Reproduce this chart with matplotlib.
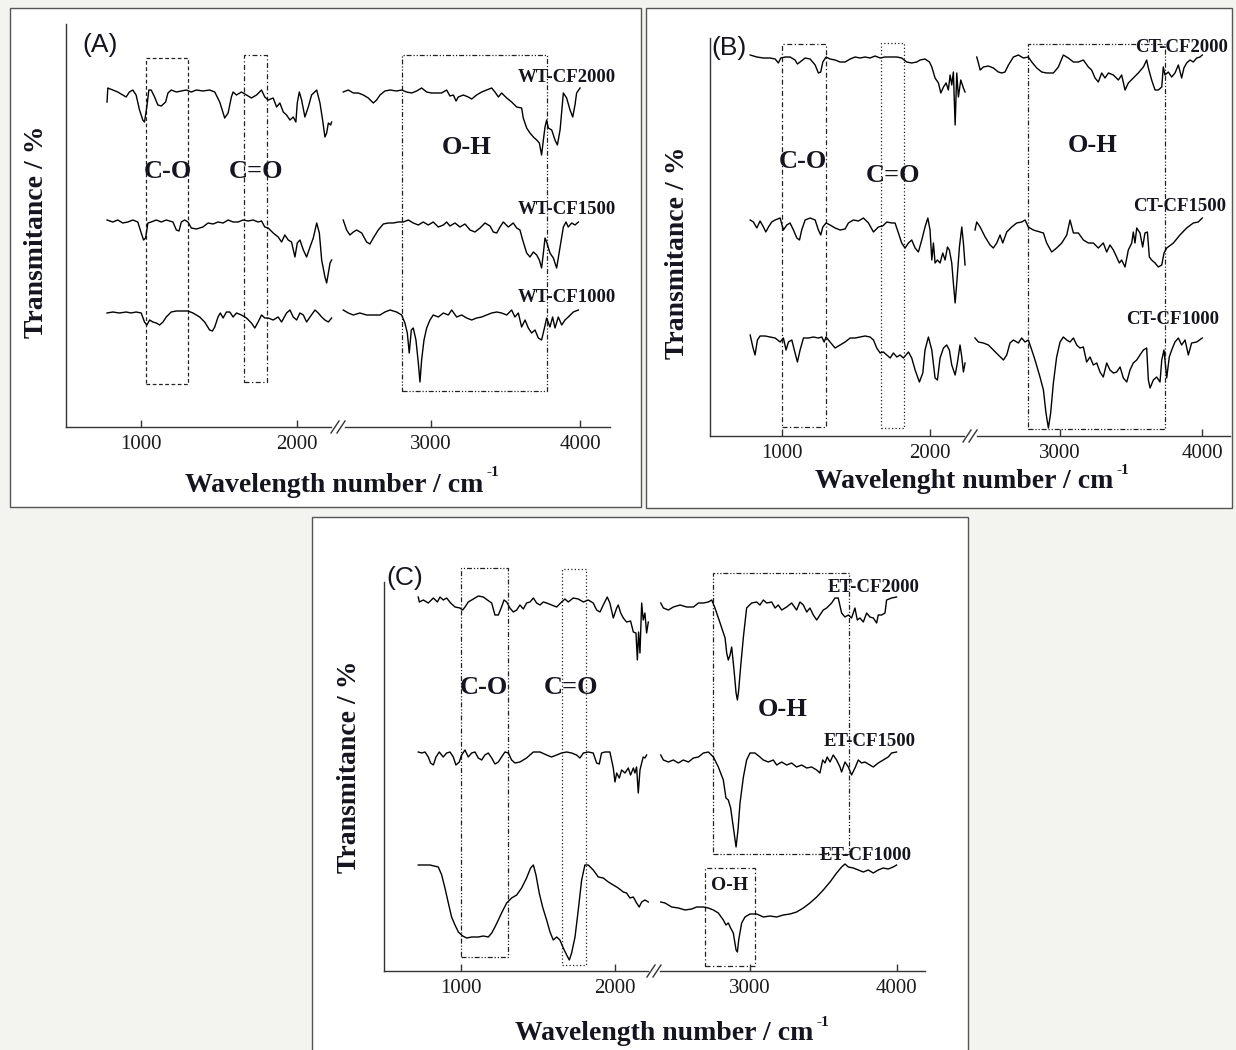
import matplotlib
matplotlib.use("Agg")
import matplotlib.pyplot as plt
from matplotlib.patches import Rectangle
from matplotlib.lines import Line2D

plt.rcParams['font.family'] = ['Liberation Serif', 'DejaVu Serif']

W, H = 1236, 1050

# ---------------- data: wavenumber (cm-1) / transmittance (a.u., stacked) ----------------
# (A) WT-CF
wt2000_lo_wn = [780, 785, 817, 849, 881, 903, 924, 946, 967, 989, 1010, 1021, 1036, 1049, 1064, 1086, 1107, 1129,
                1157, 1172, 1193, 1226, 1258, 1290, 1322, 1355, 1397, 1440, 1473, 1505, 1537, 1559, 1580, 1591,
                1613, 1645, 1677, 1709, 1742, 1774, 1795, 1817, 1849, 1871, 1892, 1914, 1935, 1957, 1978, 1995,
                2004, 2017, 2032, 2053, 2075, 2096, 2129, 2150, 2167, 2182, 2193, 2204, 2219, 2225]
wt2000_lo_t = [325, 339, 337, 335, 332, 330, 335, 337, 332, 317, 307, 305, 320, 337, 337, 330, 322, 321,
               325, 334, 337, 335, 336, 337, 335, 337, 336, 337, 335, 325, 309, 314, 330, 335,
               332, 335, 332, 329, 332, 337, 330, 327, 329, 320, 324, 315, 312, 307, 310, 305,
               324, 335, 327, 310, 320, 332, 337, 324, 307, 290, 294, 304, 302, 305]
wt2000_hi_wn = [2411, 2445, 2479, 2512, 2546, 2579, 2613, 2635, 2658, 2691, 2725, 2769, 2803, 2836, 2870, 2904,
                2937, 2971, 3004, 3038, 3071, 3105, 3127, 3150, 3168, 3183, 3217, 3250, 3273, 3306, 3340, 3373,
                3407, 3429, 3452, 3474, 3508, 3541, 3575, 3608, 3619, 3642, 3664, 3687, 3709, 3727, 3742, 3754,
                3765, 3776, 3787, 3810, 3832, 3848, 3866, 3888, 3910, 3933, 3951, 3966, 3977, 4000]
wt2000_hi_t = [335, 337, 334, 334, 332, 329, 324, 327, 332, 336, 337, 336, 337, 335, 334, 336,
               339, 335, 334, 334, 334, 337, 331, 332, 326, 330, 332, 330, 328, 332, 335, 337,
               339, 335, 330, 334, 329, 325, 320, 319, 309, 299, 294, 290, 287, 284, 272, 287,
               300, 307, 299, 297, 287, 282, 297, 334, 329, 317, 310, 322, 334, 339]

wt1500_lo_wn = [780, 817, 849, 881, 914, 946, 978, 1000, 1015, 1028, 1043, 1064, 1097, 1129, 1161, 1204, 1226,
                1243, 1258, 1279, 1301, 1322, 1355, 1397, 1430, 1462, 1494, 1527, 1559, 1591, 1623, 1656, 1688,
                1720, 1752, 1774, 1795, 1817, 1849, 1881, 1903, 1924, 1946, 1967, 1989, 2004, 2021, 2043, 2064,
                2086, 2107, 2129, 2146, 2161, 2182, 2193, 2204, 2215, 2225]
wt1500_lo_t = [207, 205, 207, 204, 205, 207, 205, 194, 187, 189, 204, 205, 207, 205, 207, 205, 197,
               196, 205, 207, 205, 199, 198, 200, 204, 203, 205, 204, 207, 205, 205, 207, 206,
               207, 205, 206, 200, 199, 194, 190, 185, 192, 187, 185, 170, 184, 187, 177, 170,
               180, 189, 204, 194, 167, 150, 144, 154, 164, 167]
wt1500_hi_wn = [2411, 2434, 2456, 2479, 2501, 2535, 2568, 2590, 2613, 2646, 2680, 2713, 2747, 2781, 2814, 2848,
                2881, 2915, 2948, 2982, 3015, 3049, 3083, 3105, 3127, 3161, 3194, 3228, 3262, 3295, 3329, 3362,
                3396, 3418, 3441, 3463, 3485, 3519, 3552, 3575, 3597, 3615, 3642, 3664, 3687, 3709, 3727, 3742,
                3754, 3765, 3776, 3798, 3821, 3843, 3866, 3888, 3906, 3921, 3944, 3966, 3989]
wt1500_hi_t = [207, 197, 192, 195, 197, 194, 185, 183, 189, 197, 203, 204, 204, 205, 205, 207,
               204, 202, 205, 202, 205, 200, 202, 205, 201, 204, 200, 203, 197, 195, 199, 204,
               201, 195, 194, 200, 205, 200, 204, 199, 197, 187, 174, 170, 175, 172, 167, 159,
               174, 189, 185, 174, 169, 159, 180, 200, 205, 200, 204, 202, 205]

wt1000_lo_wn = [780, 817, 860, 903, 935, 967, 1000, 1021, 1036, 1054, 1075, 1097, 1118, 1140, 1161, 1193, 1226,
                1258, 1301, 1333, 1376, 1408, 1440, 1458, 1473, 1494, 1509, 1527, 1548, 1570, 1591, 1613, 1645,
                1677, 1709, 1731, 1752, 1774, 1795, 1817, 1849, 1881, 1903, 1935, 1957, 1978, 2000, 2021, 2043,
                2064, 2086, 2118, 2139, 2161, 2182, 2204, 2225]
wt1000_lo_t = [114, 115, 114, 115, 114, 115, 114, 105, 102, 107, 105, 104, 102, 105, 110, 115, 116,
               116, 116, 114, 110, 105, 97, 96, 100, 110, 114, 109, 115, 115, 110, 114, 112,
               109, 104, 99, 105, 112, 109, 109, 107, 110, 105, 114, 117, 110, 107, 114, 112,
               105, 110, 117, 114, 110, 107, 105, 109]
wt1000_hi_wn = [2411, 2445, 2479, 2523, 2568, 2613, 2658, 2691, 2725, 2769, 2803, 2825, 2841, 2854, 2868, 2881,
                2899, 2915, 2926, 2937, 2953, 2971, 2993, 3015, 3049, 3083, 3116, 3139, 3172, 3206, 3239, 3273,
                3306, 3340, 3373, 3407, 3441, 3474, 3508, 3541, 3563, 3586, 3608, 3631, 3653, 3675, 3698, 3720,
                3742, 3758, 3776, 3798, 3816, 3832, 3854, 3877, 3899, 3921, 3955, 3989]
wt1000_hi_t = [117, 114, 112, 114, 112, 112, 112, 115, 117, 115, 112, 104, 94, 74, 97, 99,
               87, 64, 45, 67, 87, 99, 107, 112, 110, 114, 112, 117, 110, 112, 109, 107,
               109, 110, 112, 114, 115, 114, 112, 117, 110, 114, 100, 107, 99, 94, 97, 89,
               87, 97, 109, 100, 110, 99, 110, 102, 107, 110, 115, 117]

# (B) CT-CF
ct2000_lo_wn = [782, 827, 872, 917, 951, 973, 989, 1019, 1052, 1086, 1102, 1120, 1154, 1188, 1222, 1244, 1260,
                1274, 1296, 1323, 1357, 1391, 1425, 1459, 1493, 1526, 1560, 1594, 1628, 1662, 1696, 1730, 1775,
                1808, 1842, 1876, 1910, 1933, 1966, 1996, 2012, 2034, 2057, 2073, 2091, 2109, 2124, 2136, 2147,
                2158, 2170, 2181, 2192, 2208, 2226, 2237]
ct2000_lo_t = [381, 379, 378, 378, 377, 373, 378, 379, 379, 376, 372, 374, 378, 377, 371, 363, 364,
               374, 379, 377, 376, 374, 374, 377, 379, 378, 379, 378, 380, 378, 379, 379, 379,
               378, 374, 373, 374, 376, 377, 374, 369, 358, 353, 343, 349, 353, 346, 361, 351,
               364, 311, 363, 339, 356, 348, 344]
ct2000_hi_wn = [2414, 2426, 2438, 2461, 2496, 2531, 2566, 2590, 2613, 2637, 2672, 2707, 2742, 2777, 2801, 2836,
                2871, 2906, 2953, 2988, 3023, 3058, 3094, 3129, 3164, 3199, 3222, 3246, 3269, 3293, 3316, 3340,
                3375, 3410, 3433, 3457, 3480, 3515, 3550, 3586, 3609, 3621, 3644, 3668, 3691, 3715, 3726, 3738,
                3761, 3785, 3808, 3832, 3855, 3871, 3890, 3914, 3937, 3961, 3984, 4000]
ct2000_hi_t = [379, 373, 366, 369, 370, 368, 364, 363, 364, 371, 379, 381, 378, 379, 374, 368,
               364, 363, 363, 369, 381, 378, 374, 374, 376, 369, 366, 358, 354, 363, 358, 363,
               361, 356, 361, 346, 353, 358, 363, 369, 376, 368, 356, 346, 346, 349, 369, 361,
               364, 359, 363, 371, 358, 368, 373, 376, 374, 378, 379, 381]

ct1500_lo_wn = [782, 804, 827, 849, 872, 888, 906, 928, 951, 985, 1007, 1030, 1052, 1075, 1098, 1116, 1131,
                1154, 1188, 1222, 1244, 1260, 1274, 1296, 1323, 1357, 1391, 1425, 1447, 1481, 1515, 1549, 1583,
                1617, 1650, 1680, 1707, 1741, 1763, 1786, 1808, 1831, 1854, 1876, 1899, 1921, 1944, 1966, 1985,
                2000, 2012, 2023, 2034, 2050, 2068, 2086, 2102, 2118, 2131, 2147, 2158, 2170, 2181, 2199, 2215,
                2226, 2237]
ct1500_lo_t = [216, 214, 208, 215, 209, 204, 209, 214, 216, 218, 206, 211, 213, 206, 198, 196, 206,
               216, 218, 216, 206, 201, 209, 213, 211, 208, 206, 207, 213, 216, 215, 218, 213,
               204, 209, 210, 214, 213, 213, 203, 193, 188, 193, 196, 188, 184, 196, 209, 218,
               206, 176, 193, 173, 176, 173, 183, 176, 189, 186, 173, 153, 133, 153, 189, 209,
               193, 171]
ct1500_hi_wn = [2402, 2414, 2438, 2473, 2508, 2531, 2555, 2578, 2597, 2625, 2660, 2695, 2730, 2754, 2777, 2812,
                2859, 2883, 2906, 2941, 2976, 3012, 3047, 3070, 3094, 3129, 3164, 3199, 3234, 3269, 3304, 3328,
                3351, 3375, 3398, 3417, 3433, 3457, 3480, 3504, 3515, 3527, 3539, 3562, 3581, 3597, 3614, 3628,
                3644, 3668, 3691, 3715, 3731, 3750, 3797, 3843, 3890, 3937, 3972, 4000]
ct1500_hi_t = [206, 214, 209, 199, 191, 188, 193, 201, 193, 204, 209, 213, 214, 216, 209, 206,
               204, 203, 193, 184, 188, 193, 201, 216, 203, 203, 196, 193, 193, 188, 193, 184,
               191, 186, 179, 173, 176, 169, 186, 193, 204, 193, 208, 203, 189, 203, 204, 179,
               176, 173, 169, 171, 183, 188, 193, 201, 208, 213, 214, 218]

ct1000_lo_wn = [782, 800, 815, 831, 849, 883, 917, 951, 985, 1007, 1025, 1041, 1064, 1086, 1102, 1120, 1143,
                1177, 1210, 1244, 1267, 1283, 1296, 1323, 1357, 1391, 1425, 1459, 1493, 1526, 1560, 1594, 1617,
                1639, 1662, 1684, 1707, 1730, 1752, 1775, 1797, 1820, 1854, 1876, 1899, 1928, 1951, 1966, 1989,
                2012, 2034, 2050, 2068, 2091, 2113, 2131, 2147, 2170, 2185, 2203, 2215, 2226, 2237]
ct1000_lo_t = [101, 89, 81, 96, 100, 100, 99, 98, 94, 98, 86, 94, 96, 83, 74, 86, 98,
               98, 99, 98, 99, 94, 99, 94, 88, 91, 94, 98, 98, 99, 100, 99, 96,
               88, 83, 84, 81, 78, 83, 79, 81, 78, 84, 78, 66, 54, 63, 86, 99,
               86, 58, 56, 78, 88, 91, 86, 71, 61, 73, 91, 79, 64, 73]
ct1000_hi_wn = [2402, 2426, 2461, 2496, 2531, 2566, 2602, 2625, 2648, 2672, 2707, 2730, 2754, 2777, 2801, 2824,
                2859, 2883, 2901, 2918, 2934, 2953, 2976, 3000, 3023, 3047, 3070, 3094, 3117, 3140, 3164, 3187,
                3211, 3234, 3258, 3281, 3304, 3328, 3351, 3375, 3398, 3422, 3445, 3469, 3492, 3515, 3539, 3562,
                3586, 3609, 3621, 3633, 3656, 3679, 3703, 3715, 3731, 3750, 3768, 3785, 3808, 3832, 3855, 3879,
                3902, 3925, 3961, 4000]
ct1000_hi_t = [98, 94, 93, 91, 86, 81, 76, 81, 93, 96, 93, 98, 94, 96, 86, 76,
               59, 46, 23, 8, 23, 53, 79, 94, 99, 96, 94, 98, 91, 88, 89, 74,
               79, 71, 73, 64, 59, 73, 66, 63, 64, 69, 58, 54, 66, 73, 76, 81,
               86, 88, 56, 48, 56, 59, 54, 76, 86, 58, 79, 86, 94, 98, 91, 96,
               81, 93, 94, 98]

# (C) ET-CF
et2000_lo_wn = [725, 732, 758, 790, 823, 849, 866, 887, 909, 935, 963, 995, 1013, 1028, 1049, 1082, 1114,
                1147, 1173, 1201, 1222, 1244, 1265, 1281, 1298, 1319, 1341, 1363, 1384, 1406, 1427, 1449, 1471,
                1492, 1514, 1535, 1557, 1589, 1622, 1654, 1676, 1697, 1730, 1762, 1795, 1827, 1859, 1881, 1903,
                1924, 1950, 1967, 1989, 2011, 2021, 2037, 2054, 2075, 2101, 2119, 2136, 2145, 2153, 2162, 2173,
                2183, 2194, 2205, 2216]
et2000_lo_t = [374, 369, 371, 368, 373, 369, 374, 371, 373, 368, 364, 363, 361, 364, 369, 372, 375,
               374, 371, 368, 356, 356, 364, 371, 369, 363, 359, 361, 366, 362, 368, 369, 373,
               368, 366, 369, 368, 366, 364, 369, 372, 369, 373, 372, 369, 371, 368, 361, 359,
               366, 374, 368, 353, 363, 366, 358, 353, 349, 350, 339, 338, 311, 339, 318, 368,
               351, 358, 338, 349]
et2000_hi_wn = [2391, 2409, 2443, 2477, 2523, 2568, 2614, 2648, 2682, 2716, 2739, 2761, 2796, 2830, 2841, 2852,
                2864, 2875, 2891, 2905, 2914, 2923, 2936, 2955, 2977, 3011, 3046, 3068, 3091, 3114, 3148, 3171,
                3193, 3216, 3250, 3284, 3318, 3341, 3364, 3387, 3409, 3432, 3455, 3477, 3500, 3523, 3557, 3580,
                3602, 3625, 3648, 3671, 3693, 3716, 3732, 3750, 3773, 3796, 3818, 3841, 3864, 3875, 3898, 3921,
                3932, 3966, 4000]
et2000_hi_t = [368, 363, 361, 364, 366, 364, 364, 368, 368, 369, 371, 363, 348, 333, 318, 311,
               316, 324, 301, 278, 271, 281, 304, 334, 363, 368, 369, 366, 371, 368, 369, 363,
               366, 361, 364, 368, 361, 369, 366, 359, 363, 356, 351, 356, 361, 363, 368, 373,
               373, 358, 354, 356, 353, 363, 351, 353, 349, 358, 354, 353, 348, 356, 356, 358,
               371, 373, 374]

et1500_lo_wn = [725, 747, 769, 790, 805, 823, 840, 861, 887, 909, 931, 952, 969, 991, 1006, 1028, 1049,
                1071, 1093, 1114, 1136, 1157, 1179, 1201, 1222, 1244, 1265, 1287, 1309, 1330, 1352, 1384, 1427,
                1471, 1514, 1557, 1589, 1622, 1654, 1687, 1719, 1751, 1773, 1795, 1827, 1859, 1881, 1898, 1913,
                1935, 1967, 1989, 2000, 2011, 2028, 2043, 2065, 2086, 2101, 2119, 2129, 2140, 2151, 2162, 2173,
                2183, 2194, 2205]
et1500_lo_t = [219, 218, 219, 214, 208, 206, 214, 219, 214, 218, 219, 214, 206, 209, 216, 221, 214,
               218, 219, 213, 211, 216, 218, 213, 207, 209, 214, 219, 218, 211, 208, 209, 213,
               219, 219, 216, 214, 216, 218, 219, 218, 216, 213, 218, 219, 218, 208, 207, 218,
               219, 219, 203, 189, 198, 193, 201, 198, 203, 196, 203, 198, 204, 178, 201, 208,
               214, 213, 216]
et1500_hi_wn = [2391, 2409, 2443, 2477, 2511, 2545, 2580, 2614, 2648, 2682, 2716, 2750, 2784, 2818, 2836, 2852,
                2868, 2886, 2905, 2918, 2932, 2955, 2977, 3000, 3034, 3068, 3091, 3125, 3159, 3182, 3216, 3250,
                3284, 3318, 3352, 3387, 3421, 3455, 3477, 3496, 3512, 3527, 3546, 3568, 3591, 3614, 3625, 3648,
                3671, 3693, 3716, 3739, 3761, 3784, 3818, 3841, 3875, 3909, 3943, 3966, 4000]
et1500_hi_t = [216, 211, 209, 211, 208, 211, 209, 213, 214, 218, 219, 214, 204, 191, 173, 171,
               163, 144, 124, 141, 168, 194, 211, 218, 218, 214, 211, 209, 211, 206, 209, 206,
               208, 204, 206, 203, 204, 201, 198, 211, 208, 214, 209, 216, 211, 204, 199, 209,
               204, 196, 203, 211, 208, 209, 206, 204, 208, 211, 214, 218, 219]

et1000_lo_wn = [725, 801, 855, 877, 898, 920, 941, 963, 985, 1013, 1039, 1071, 1114, 1147, 1179, 1201, 1222,
                1244, 1265, 1298, 1330, 1363, 1395, 1427, 1453, 1471, 1488, 1509, 1531, 1557, 1579, 1600, 1622,
                1643, 1665, 1687, 1704, 1719, 1741, 1762, 1784, 1805, 1827, 1859, 1892, 1924, 1957, 1989, 2021,
                2054, 2075, 2097, 2119, 2140, 2157, 2173, 2194, 2216]
et1000_lo_t = [106, 106, 104, 96, 83, 68, 54, 46, 39, 35, 33, 34, 34, 35, 34, 38, 44,
               51, 58, 68, 73, 76, 83, 93, 103, 106, 96, 78, 64, 51, 39, 31, 34,
               31, 23, 16, 11, 18, 34, 61, 91, 106, 106, 101, 94, 93, 89, 86, 83,
               79, 78, 73, 74, 68, 64, 69, 71, 69]
et1000_hi_wn = [2391, 2420, 2466, 2511, 2557, 2602, 2636, 2682, 2716, 2750, 2784, 2818, 2836, 2852, 2868, 2886,
                2905, 2914, 2923, 2943, 2966, 3000, 3046, 3091, 3136, 3182, 3227, 3273, 3318, 3364, 3409, 3455,
                3500, 3546, 3591, 3625, 3648, 3671, 3705, 3739, 3773, 3807, 3841, 3875, 3909, 3943, 3977, 4000]
et1000_hi_t = [69, 68, 64, 63, 61, 62, 64, 64, 63, 61, 58, 51, 46, 48, 43, 38,
               21, 19, 31, 48, 54, 57, 57, 54, 55, 54, 56, 57, 59, 63, 68, 74,
               81, 89, 98, 104, 107, 104, 103, 101, 99, 101, 98, 101, 103, 102, 104, 106]

# marked bands (cm-1)
bands_a = {'C-O': (1028, 1299), 'C=O': (1661, 1809), 'O-H': (2803, 3776)}
bands_b = {'C-O': (996, 1296), 'C=O': (1669, 1824), 'O-H': (2777, 3738)}
bands_c = {'C-O': (1002, 1309), 'C=O': (1654, 1812), 'O-H': (2750, 3677), 'O-H small': (2693, 3034)}

# ---------------- figure ----------------
fig = plt.figure(figsize=(W / 100, H / 100), dpi=100, facecolor='#f3f3ef')
renderer = fig.canvas.get_renderer()

INK = '#15151f'
DASHED = (0, (3, 2))
DASHDOT = (0, (4, 2, 1, 2))
DASHDOTDOT = (0, (4, 1.5, 1, 1.5, 1, 1.5))
DOTTED = (0, (1, 1.8))


def fx(px):
    return px / W


def fy(py):
    return 1 - py / H


def frame(x0, y0, x1, y1):
    fig.add_artist(Rectangle((fx(x0), fy(y1)), (x1 - x0) / W, (y1 - y0) / H, transform=fig.transFigure,
                             facecolor='white', edgecolor='#555555', lw=1, zorder=-5))


def make_ax(x0, x1, ytop, ybot, xlim, ticks, left):
    ax = fig.add_axes([fx(x0), fy(ybot), (x1 - x0) / W, (ybot - ytop) / H])
    ax.set_facecolor('none')
    ax.set_xlim(*xlim)
    ax.set_ylim(0, ybot - ytop)
    ax.spines['top'].set_visible(False)
    ax.spines['right'].set_visible(False)
    ax.spines['left'].set_visible(left)
    for s in ('left', 'bottom'):
        ax.spines[s].set_linewidth(1.0)
        ax.spines[s].set_color('#333333')
    ax.set_yticks([])
    ax.set_xticks(ticks)
    ax.set_xticklabels([str(t) for t in ticks])
    ax.tick_params(axis='x', direction='in', length=5, width=1, labelsize=15, pad=6,
                   colors='#333333', labelcolor='#1a1a1a')
    return ax


def break_marks(xc, yb):
    for dx in (-3, 3):
        fig.add_artist(Line2D([fx(xc + dx - 4), fx(xc + dx + 4)], [fy(yb + 6), fy(yb - 6)],
                              transform=fig.transFigure, color='#333333', lw=1))


def band_box(ax, band, h0, h1, ls):
    ax.add_patch(Rectangle((band[0], h0), band[1] - band[0], h1 - h0, fill=False,
                           edgecolor='#222222', lw=0.9, ls=ls, clip_on=False))


def ftext(px, py, s, **kw):
    return fig.text(fx(px), fy(py), s, color=INK, **kw)


def xlabel(px, py, s):
    t = ftext(px, py, s, fontsize=20, fontweight='bold', ha='center', va='center')
    bb = t.get_window_extent(renderer)
    fig.text((bb.x1 + 3) / W, (bb.y1 + 6) / H, '-1', color=INK, fontsize=11,
             fontweight='bold', ha='left', va='top')


def panel(box, lo_px, hi_px, ytop, ybot, lo_lim, hi_lim, spectra, brk):
    frame(*box)
    ax_lo = make_ax(lo_px[0], lo_px[1], ytop, ybot, lo_lim, [1000, 2000], True)
    ax_hi = make_ax(hi_px[0], hi_px[1], ytop, ybot, hi_lim, [3000, 4000], False)
    for lx, ly, hx, hy in spectra:
        ax_lo.plot(lx, ly, color='black', lw=1.0, clip_on=False)
        ax_hi.plot(hx, hy, color='black', lw=1.0, clip_on=False)
    break_marks(brk, ybot)
    return ax_lo, ax_hi


bold = dict(fontweight='bold', ha='center', va='center')

# ----- (A) -----
a_lo, a_hi = panel((10, 8, 641, 507), (66, 331), (345, 610), 24, 427, (516, 2221), (2423, 4201),
                   [(wt2000_lo_wn, wt2000_lo_t, wt2000_hi_wn, wt2000_hi_t),
                    (wt1500_lo_wn, wt1500_lo_t, wt1500_hi_wn, wt1500_hi_t),
                    (wt1000_lo_wn, wt1000_lo_t, wt1000_hi_wn, wt1000_hi_t)], 338)
band_box(a_lo, bands_a['C-O'], 43, 369, DASHED)
band_box(a_lo, bands_a['C=O'], 45, 372, DASHDOT)
band_box(a_hi, bands_a['O-H'], 36, 372, DASHDOTDOT)
ftext(100, 45, '(A)', family='Liberation Sans', fontsize=19, ha='center', va='center')
ftext(168, 172, 'C-O', fontsize=19, **bold)
ftext(256, 172, 'C=O', fontsize=19, **bold)
ftext(467, 147, 'O-H', fontsize=19, **bold)
for py, s in ((78, 'WT-CF2000'), (210, 'WT-CF1500'), (298, 'WT-CF1000')):
    ftext(616, py, s, fontsize=13.5, fontweight='bold', ha='right', va='center')
ftext(37, 232, 'Transmitance / %', fontsize=20, rotation=90, **bold)
xlabel(334, 485, 'Wavelength number / cm')

# ----- (B) -----
b_lo, b_hi = panel((646, 8, 1232, 508), (710, 964), (977, 1230), 38, 436, (510, 2230), (2416, 4195),
                   [(ct2000_lo_wn, ct2000_lo_t, ct2000_hi_wn, ct2000_hi_t),
                    (ct1500_lo_wn, ct1500_lo_t, ct1500_hi_wn, ct1500_hi_t),
                    (ct1000_lo_wn, ct1000_lo_t, ct1000_hi_wn, ct1000_hi_t)], 970)
band_box(b_lo, bands_b['C-O'], 9, 392, DASHDOT)
band_box(b_lo, bands_b['C=O'], 8, 393, DOTTED)
band_box(b_hi, bands_b['O-H'], 7, 392, DASHDOTDOT)
ftext(729, 48, '(B)', family='Liberation Sans', fontsize=19, ha='center', va='center')
ftext(803, 162, 'C-O', fontsize=19, **bold)
ftext(893, 175, 'C=O', fontsize=19, **bold)
ftext(1093, 145, 'O-H', fontsize=19, **bold)
for px, py, s in ((1228, 48, 'CT-CF2000'), (1226, 206, 'CT-CF1500'), (1219, 320, 'CT-CF1000')):
    ftext(px, py, s, fontsize=13.5, fontweight='bold', ha='right', va='center')
ftext(677, 253, 'Transmitance / %', fontsize=20, rotation=90, **bold)
xlabel(964, 482, 'Wavelenght number / cm')

# ----- (C) -----
c_lo, c_hi = panel((312, 517, 968, 1052), (384, 648), (660, 925), 582, 971, (503, 2214), (2386, 4194),
                   [(et2000_lo_wn, et2000_lo_t, et2000_hi_wn, et2000_hi_t),
                    (et1500_lo_wn, et1500_lo_t, et1500_hi_wn, et1500_hi_t),
                    (et1000_lo_wn, et1000_lo_t, et1000_hi_wn, et1000_hi_t)], 654)
band_box(c_lo, bands_c['C-O'], 14, 403, DASHDOTDOT)
band_box(c_lo, bands_c['C=O'], 6, 402, DOTTED)
band_box(c_hi, bands_c['O-H'], 117, 398, DASHDOTDOT)
band_box(c_hi, bands_c['O-H small'], 5, 103, DASHDOT)
ftext(405, 578, '(C)', family='Liberation Sans', fontsize=19, ha='center', va='center')
ftext(484, 687, 'C-O', fontsize=19, **bold)
ftext(571, 687, 'C=O', fontsize=19, **bold)
ftext(783, 710, 'O-H', fontsize=19, **bold)
ftext(730, 885, 'O-H', fontsize=14, **bold)
for px, py, s in ((920, 588, 'ET-CF2000'), (916, 741, 'ET-CF1500'), (912, 855, 'ET-CF1000')):
    ftext(px, py, s, fontsize=13.5, fontweight='bold', ha='right', va='center')
ftext(349, 767, 'Transmitance / %', fontsize=20, rotation=90, **bold)
xlabel(664, 1034, 'Wavelength number / cm')

fig.savefig('out.png', dpi=100, facecolor=fig.get_facecolor())
